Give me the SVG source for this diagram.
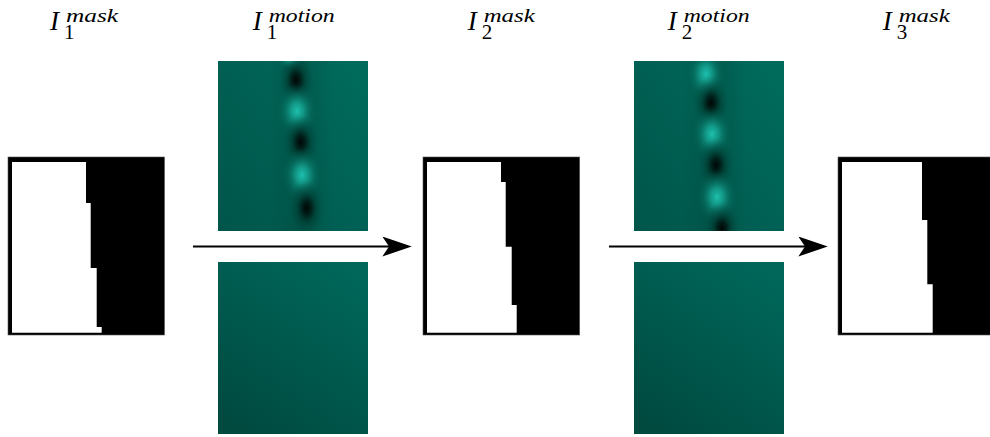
<svg xmlns="http://www.w3.org/2000/svg" width="990" height="437" viewBox="0 0 990 437">
  <style>
    .lbl { font-family: "Liberation Serif", "DejaVu Serif", serif; fill: #000; }
    .lblI { font-style: italic; font-size: 27px; }
    .lblSub { font-style: normal; font-size: 21px; }
    .lblSup { font-style: italic; font-size: 18px; }
    .frame { fill: #000; stroke: #555; stroke-width: 0.6; }
    .white { fill: #fff; }
    .conn { stroke: #000; stroke-width: 2; fill: none; }
  </style>
  <defs>
    <marker id="arrowhead" markerUnits="userSpaceOnUse" markerWidth="30" markerHeight="20" viewBox="0 0 27 18" refX="6" refY="9" orient="auto">
      <path d="M0,0 L26.5,9 L0,18 L6,9 Z" fill="#000"/>
    </marker>
    <linearGradient id="bgTop" x1="0" y1="1" x2="1" y2="0.2">
      <stop offset="0" stop-color="#00554a"/>
      <stop offset="1" stop-color="#006a5b"/>
    </linearGradient>
    <linearGradient id="bgBot" x1="0.2" y1="1" x2="0.8" y2="0">
      <stop offset="0" stop-color="#004a40"/>
      <stop offset="1" stop-color="#00675a"/>
    </linearGradient>
    <radialGradient id="dark">
      <stop offset="0" stop-color="#000604" stop-opacity="1"/>
      <stop offset="0.25" stop-color="#001a15" stop-opacity="0.9"/>
      <stop offset="0.55" stop-color="#00362d" stop-opacity="0.5"/>
      <stop offset="1" stop-color="#004c40" stop-opacity="0"/>
    </radialGradient>
    <radialGradient id="light">
      <stop offset="0" stop-color="#1fc0ae" stop-opacity="1"/>
      <stop offset="0.3" stop-color="#16a896" stop-opacity="0.8"/>
      <stop offset="0.65" stop-color="#0b8070" stop-opacity="0.35"/>
      <stop offset="1" stop-color="#006050" stop-opacity="0"/>
    </radialGradient>
    <linearGradient id="halo" x1="0" y1="0" x2="1" y2="0">
      <stop offset="0" stop-color="#003a31" stop-opacity="0"/>
      <stop offset="0.5" stop-color="#003a31" stop-opacity="0.3"/>
      <stop offset="1" stop-color="#003a31" stop-opacity="0"/>
    </linearGradient>
    <clipPath id="clipT1"><rect x="218" y="61" width="150" height="170"/></clipPath>
    <clipPath id="clipT2"><rect x="634" y="61" width="150" height="170"/></clipPath>
  </defs>

  <!-- labels -->
  <g id="label-mask1">
    <text class="lbl lblI" x="50" y="30">I<tspan class="lblSub" x="64" y="39">1</tspan><tspan class="lblSup" x="66" y="22" textLength="52" lengthAdjust="spacingAndGlyphs">mask</tspan></text>
  </g>
  <g id="label-motion1">
    <text class="lbl lblI" x="252.7" y="30">I<tspan class="lblSub" x="266.7" y="39">1</tspan><tspan class="lblSup" x="268.7" y="22" textLength="66" lengthAdjust="spacingAndGlyphs">motion</tspan></text>
  </g>
  <g id="label-mask2">
    <text class="lbl lblI" x="467.7" y="30">I<tspan class="lblSub" x="481.7" y="39">2</tspan><tspan class="lblSup" x="483.7" y="22" textLength="51" lengthAdjust="spacingAndGlyphs">mask</tspan></text>
  </g>
  <g id="label-motion2">
    <text class="lbl lblI" x="667.7" y="30">I<tspan class="lblSub" x="681.7" y="39">2</tspan><tspan class="lblSup" x="683.7" y="22" textLength="66" lengthAdjust="spacingAndGlyphs">motion</tspan></text>
  </g>
  <g id="label-mask3">
    <text class="lbl lblI" x="882.7" y="30">I<tspan class="lblSub" x="896.7" y="39">3</tspan><tspan class="lblSup" x="898.7" y="22" textLength="51" lengthAdjust="spacingAndGlyphs">mask</tspan></text>
  </g>

  <!-- masks -->
  <g id="mask1">
    <rect class="frame" x="8" y="157" width="156.5" height="178"/>
    <polygon class="white" points="12,162 86,162 86,203 90.7,203 90.7,268 96.7,268 96.7,327 101.7,327 101.7,332.7 12,332.7"/>
  </g>
  <g id="mask2">
    <rect class="frame" x="423" y="157" width="156.7" height="178"/>
    <polygon class="white" points="427,162 501,162 501,182 505.7,182 505.7,246.7 511.7,246.7 511.7,305 516.7,305 516.7,332.7 427,332.7"/>
  </g>
  <g id="mask3">
    <rect class="frame" x="838" y="157" width="153" height="178"/>
    <polygon class="white" points="842,162 922,162 922,220 927.3,220 927.3,284.3 932.7,284.3 932.7,332.7 842,332.7"/>
  </g>

  <!-- motion images -->
  <g id="motion1-top" clip-path="url(#clipT1)">
    <rect x="218" y="61" width="150" height="170" fill="url(#bgTop)"/>
    <rect x="268" y="61" width="64" height="170" fill="url(#halo)"/>
    <ellipse cx="290" cy="60" rx="14" ry="10" fill="url(#light)" opacity="0.7"/>
    <ellipse cx="296" cy="80" rx="18" ry="27" fill="url(#dark)"/>
    <ellipse cx="297" cy="111" rx="21" ry="28" fill="url(#light)"/>
    <ellipse cx="300.7" cy="142" rx="18" ry="27" fill="url(#dark)"/>
    <ellipse cx="302" cy="175" rx="21" ry="28" fill="url(#light)"/>
    <ellipse cx="306.7" cy="208" rx="18" ry="28" fill="url(#dark)"/>
  </g>
  <g id="motion1-bottom">
    <rect x="218" y="262" width="150" height="172" fill="url(#bgBot)"/>
  </g>
  <g id="motion2-top" clip-path="url(#clipT2)">
    <rect x="634" y="61" width="150" height="170" fill="url(#bgTop)"/>
    <rect x="682" y="61" width="64" height="170" fill="url(#halo)"/>
    <ellipse cx="706" cy="74" rx="20" ry="28" fill="url(#light)"/>
    <ellipse cx="711" cy="103" rx="18" ry="27" fill="url(#dark)"/>
    <ellipse cx="712" cy="134" rx="21" ry="28" fill="url(#light)"/>
    <ellipse cx="716" cy="165" rx="18" ry="27" fill="url(#dark)"/>
    <ellipse cx="717" cy="197" rx="21" ry="28" fill="url(#light)"/>
    <ellipse cx="722" cy="228" rx="18" ry="26" fill="url(#dark)"/>
  </g>
  <g id="motion2-bottom">
    <rect x="634" y="262" width="150" height="172" fill="url(#bgBot)"/>
  </g>

  <!-- connectors -->
  <g id="connectors">
    <line class="conn" x1="193" y1="246.5" x2="389" y2="246.5" marker-end="url(#arrowhead)"/>
    <line class="conn" x1="609" y1="246.5" x2="805" y2="246.5" marker-end="url(#arrowhead)"/>
  </g>
</svg>
